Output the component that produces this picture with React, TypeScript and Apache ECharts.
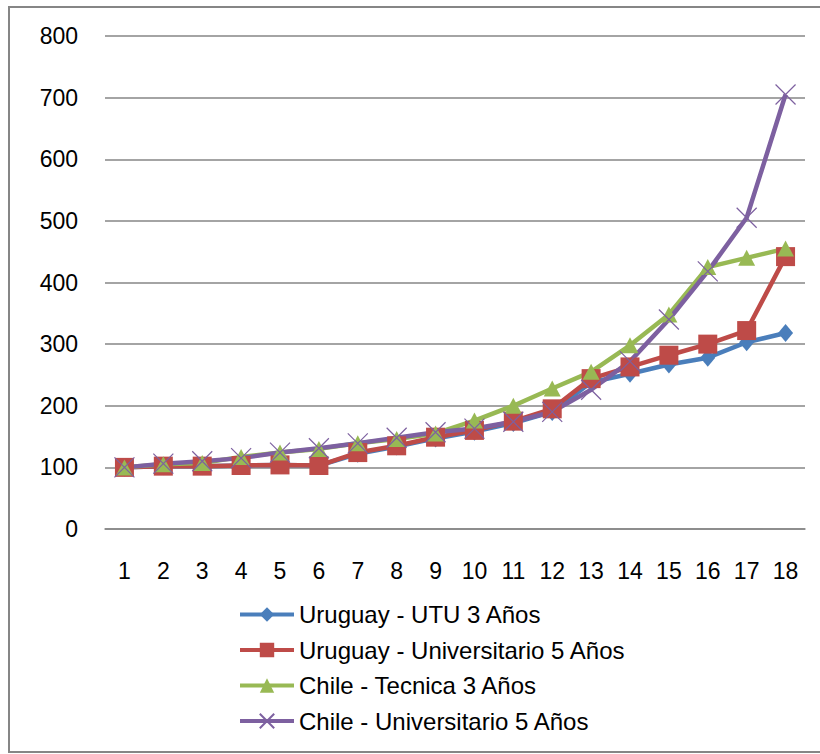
import React, { useEffect, useRef } from "react";
import * as echarts from "echarts";

const years = ["1", "2", "3", "4", "5", "6", "7", "8", "9", "10", "11", "12", "13", "14", "15", "16", "17", "18"];
const uruguayUtu = [100, 102, 102, 103, 104, 103, 122, 134, 147, 158, 172, 190, 238, 252, 267, 278, 303, 318];
const uruguayUniv = [100, 102, 102, 103, 104, 103, 124, 135, 149, 160, 175, 195, 244, 263, 282, 300, 322, 442];
const chileTecnica = [100, 105, 107, 117, 124, 130, 139, 146, 155, 176, 200, 228, 255, 298, 348, 425, 440, 455];
const chileUniv = [100, 106, 110, 115, 124, 131, 139, 148, 157, 163, 174, 190, 226, 272, 340, 418, 505, 705];
const yTicks = { min: 0, max: 800, interval: 100 };

const FONT = "'Liberation Sans', Arial, sans-serif";

export default function App() {
  const ref = useRef<HTMLDivElement>(null);

  useEffect(() => {
    if (!ref.current) return;
    const chart = echarts.init(ref.current, null, { renderer: "svg" });
    const line = (name: string, data: number[], color: string, extra: any) => ({
      name,
      type: "line",
      data,
      color,
      lineStyle: { color, width: 4.5 },
      showSymbol: true,
      ...extra,
    });
    chart.setOption({
      animation: false,
      backgroundColor: "#ffffff",
      textStyle: { fontFamily: FONT },
      graphic: [
        {
          type: "rect",
          shape: { x: 9, y: 7, width: 830, height: 745 },
          style: { fill: "none", stroke: "#868686", lineWidth: 2 },
          silent: true,
          z: -1,
        },
      ],
      grid: { left: 105, right: 15, top: 36, bottom: 225 },
      xAxis: {
        type: "category",
        data: years,
        boundaryGap: true,
        axisLine: { show: true, lineStyle: { color: "#868686", width: 1.5 } },
        axisTick: { show: false },
        axisLabel: { color: "#000", fontSize: 23, fontFamily: FONT, margin: 30 },
      },
      yAxis: {
        type: "value",
        min: yTicks.min,
        max: yTicks.max,
        interval: yTicks.interval,
        axisLine: { show: false },
        axisTick: { show: false },
        splitLine: { lineStyle: { color: "#868686", width: 1.5 } },
        axisLabel: { color: "#000", fontSize: 23, fontFamily: FONT, margin: 27 },
      },
      legend: {
        orient: "vertical",
        left: 233,
        top: 597,
        itemWidth: 54,
        itemHeight: 18,
        itemGap: 10.5,
        lineStyle: { width: 4 },
        textStyle: { color: "#000", fontSize: 24, fontFamily: FONT, lineHeight: 25 },
        data: [
          "Uruguay - UTU 3 Años",
          "Uruguay - Universitario 5 Años",
          "Chile - Tecnica 3 Años",
          "Chile - Universitario 5 Años",
        ],
      },
      series: [
        line("Uruguay - UTU 3 Años", uruguayUtu, "#4A7EBB", {
          symbol: "diamond",
          symbolSize: [15, 18],
          itemStyle: { color: "#4A7EBB" },
        }),
        line("Uruguay - Universitario 5 Años", uruguayUniv, "#BE4B48", {
          symbol: "rect",
          symbolSize: 19,
          itemStyle: { color: "#BE4B48" },
        }),
        line("Chile - Tecnica 3 Años", chileTecnica, "#98B954", {
          symbol: "triangle",
          symbolSize: [17, 16],
          itemStyle: { color: "#98B954" },
        }),
        line("Chile - Universitario 5 Años", chileUniv, "#7D60A0", {
          symbol: "path://M0 0L20 20M20 0L0 20",
          symbolSize: 20,
          itemStyle: { color: "transparent", borderColor: "#7D60A0", borderWidth: 1.2 },
        }),
      ],
    });
    return () => chart.dispose();
  }, []);

  return (
    <div
      ref={ref}
      style={{ position: "fixed", left: 0, top: 0, width: 820, height: 754, background: "#fff" }}
    />
  );
}
